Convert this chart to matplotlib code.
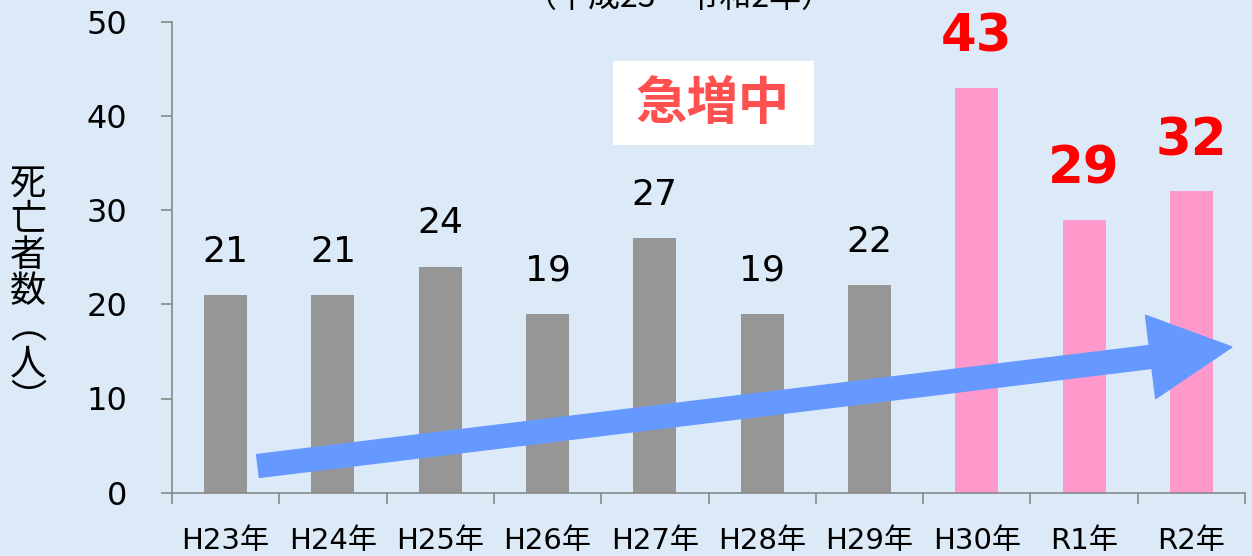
import numpy as np
import matplotlib
matplotlib.use("Agg")
import matplotlib.pyplot as plt
from matplotlib.patches import FancyArrow, Rectangle
from matplotlib.transforms import IdentityTransform

plt.rcParams['font.family'] = ['DejaVu Sans', 'Noto Sans CJK JP']

# data
years = ['H23年', 'H24年', 'H25年', 'H26年', 'H27年', 'H28年', 'H29年', 'H30年', 'R1年', 'R2年']
deaths = [21, 21, 24, 19, 27, 19, 22, 43, 29, 32]
highlight = [False] * 7 + [True] * 3

W, H = 1252, 556
fig = plt.figure(figsize=(W / 100, H / 100), dpi=100)
fig.patch.set_facecolor('#DCE9F6')

# axes placed in pixel terms
left, right, bottom, top = 172, 1245, 492.7, 21.7
ax = fig.add_axes([left / W, 1 - bottom / H, (right - left) / W, (bottom - top) / H])
ax.set_facecolor('none')

x = np.arange(len(years))
colors = ['#FF99CC' if h else '#969696' for h in highlight]
ax.bar(x, deaths, width=0.40, color=colors, zorder=2)

ax.set_xlim(-0.5, len(years) - 0.5)
ax.set_ylim(0, 50)
ax.set_yticks(np.arange(0, 51, 10))

# category ticks at the boundaries, labels in the middle
ax.set_xticks(np.arange(-0.5, len(years), 1))
ax.set_xticklabels([])
ax.set_xticks(x, minor=True)
ax.set_xticklabels(years, minor=True, fontsize=21)
ax.tick_params(axis='x', which='major', length=8, width=1.2, color='#898989', direction='out')
ax.tick_params(axis='x', which='minor', length=0, pad=25)
ax.tick_params(axis='y', length=8, width=1.2, color='#898989', direction='out', labelsize=23, pad=24)

for s in ['top', 'right']:
    ax.spines[s].set_visible(False)
for s in ['left', 'bottom']:
    ax.spines[s].set_color('#898989')
    ax.spines[s].set_linewidth(1.2)

# value labels
for xi, v, h in zip(x, deaths, highlight):
    if h:
        ax.annotate(str(v), (xi, v), xytext=(0, 26), textcoords='offset points',
                    ha='center', va='baseline', fontsize=37, fontweight='bold', color='#FF0000')
    else:
        ax.annotate(str(v), (xi, v), xytext=(0, 24), textcoords='offset points',
                    ha='center', va='baseline', fontsize=26, color='black')

# y label, stacked vertically
ylab = '死亡者数︵人︶'
fig.text(28 / W, 1 - 292 / H, '\n'.join(ylab), ha='center', va='center',
         fontsize=26, family='Noto Sans CJK JP', linespacing=1.0)

# title, cut at top edge
fig.text(679 / W, 1 - 7 / H, '（平成23～令和2年）', ha='center', va='baseline',
         fontsize=23, family='Noto Sans CJK JP')

# 急増中 box
fig.patches.append(Rectangle((613 / W, 1 - 145 / H), 201 / W, 84 / H,
                             transform=fig.transFigure, facecolor='white', edgecolor='none'))
fig.text(713 / W, 1 - 103 / H, '急増中', ha='center', va='center', fontsize=37,
         fontweight='bold', color='#FF5050', family='Noto Sans CJK JP')

# trend arrow (pixel coordinates, y up)
tail = (258, H - 466)
tip = (1232, H - 347)
arrow = FancyArrow(tail[0], tail[1], tip[0] - tail[0], tip[1] - tail[1],
                   width=23, head_width=84, head_length=82, length_includes_head=True,
                   transform=IdentityTransform(), color='#6699FF', zorder=5)
fig.patches.append(arrow)

fig.savefig('out.png', dpi=100, facecolor=fig.get_facecolor())
